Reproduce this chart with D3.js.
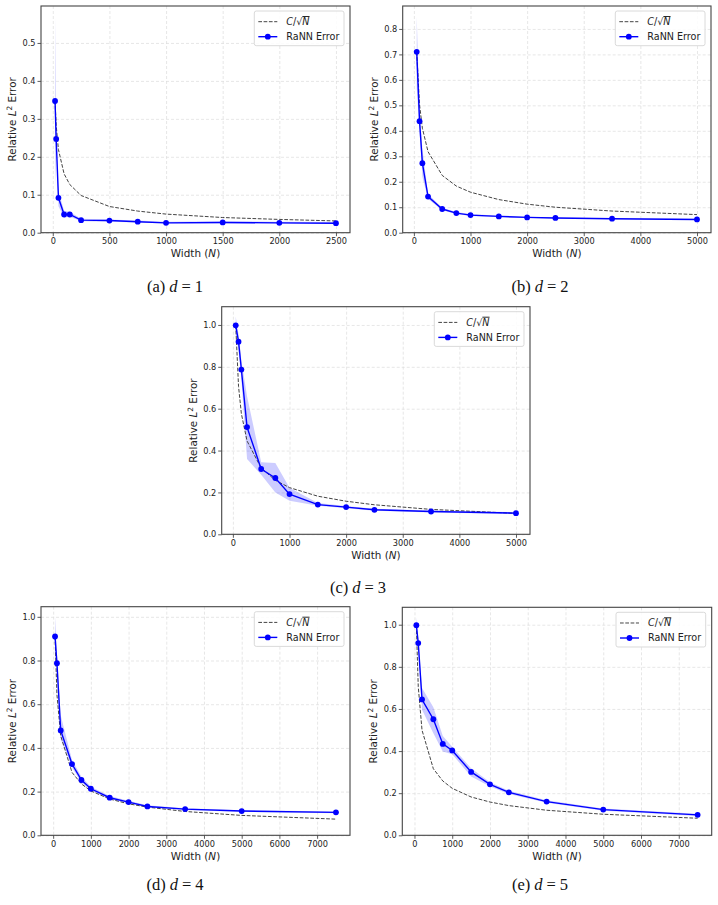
<!DOCTYPE html>
<html>
<head>
<meta charset="utf-8">
<script src="https://cdn.jsdelivr.net/npm/d3@7"></script>
<style>
  body { margin: 0; background: #fff; }
  text { font-family: "DejaVu Sans", sans-serif; }
  .caption { font-family: "Liberation Serif", serif; }
</style>
</head>
<body>
<svg width="718" height="905"></svg>
<script>
// d = 1
const nA = [20, 30, 50, 100, 150, 250, 500, 750, 1000, 1500, 2000, 2500];
const errA = [0.347, 0.247, 0.092, 0.048, 0.048, 0.033, 0.032, 0.029, 0.026, 0.027, 0.026, 0.025];
const loA = [0.120, 0.230, 0.070, 0.040, 0.042, 0.030, 0.029, 0.027, 0.024, 0.025, 0.024, 0.023];
const hiA = [0.570, 0.265, 0.110, 0.058, 0.055, 0.037, 0.035, 0.032, 0.029, 0.030, 0.029, 0.028];
const refA = [0.347, 0.283, 0.219, 0.155, 0.127, 0.098, 0.069, 0.057, 0.049, 0.040, 0.035, 0.031];

// d = 2
const nB = [50, 100, 150, 250, 500, 750, 1000, 1500, 2000, 2500, 3500, 5000];
const errB = [0.710, 0.438, 0.273, 0.142, 0.093, 0.077, 0.069, 0.064, 0.060, 0.058, 0.055, 0.052];
const loB = [0.570, 0.400, 0.220, 0.132, 0.088, 0.073, 0.066, 0.061, 0.058, 0.056, 0.053, 0.050];
const hiB = [0.850, 0.480, 0.330, 0.152, 0.098, 0.081, 0.073, 0.067, 0.063, 0.060, 0.057, 0.055];
const refB = [0.710, 0.502, 0.410, 0.318, 0.225, 0.183, 0.159, 0.130, 0.112, 0.100, 0.085, 0.071];

// d = 3
const nC = [50, 100, 150, 250, 500, 750, 1000, 1500, 2000, 2500, 3500, 5000];
const errC = [0.998, 0.920, 0.787, 0.512, 0.312, 0.269, 0.192, 0.142, 0.130, 0.117, 0.109, 0.101];
const loC = [0.955, 0.880, 0.740, 0.360, 0.285, 0.200, 0.160, 0.136, 0.125, 0.112, 0.104, 0.096];
const hiC = [1.040, 0.955, 0.830, 0.660, 0.344, 0.341, 0.222, 0.149, 0.135, 0.122, 0.114, 0.106];
const refC = [0.998, 0.706, 0.576, 0.446, 0.316, 0.258, 0.223, 0.182, 0.158, 0.141, 0.119, 0.100];

// d = 4
const nD = [50, 100, 200, 500, 750, 1000, 1500, 2000, 2500, 3500, 5000, 7500];
const errD = [0.910, 0.788, 0.480, 0.326, 0.253, 0.213, 0.172, 0.152, 0.132, 0.120, 0.111, 0.105];
const loD = [0.840, 0.750, 0.440, 0.310, 0.240, 0.205, 0.165, 0.147, 0.128, 0.116, 0.107, 0.101];
const hiD = [1.000, 0.830, 0.550, 0.345, 0.268, 0.222, 0.180, 0.158, 0.137, 0.124, 0.115, 0.109];
const refD = [0.910, 0.644, 0.455, 0.288, 0.235, 0.203, 0.166, 0.144, 0.129, 0.109, 0.091, 0.074];

// d = 5
const nE = [50, 100, 200, 500, 750, 1000, 1500, 2000, 2500, 3500, 5000, 7500];
const errE = [0.998, 0.913, 0.645, 0.551, 0.434, 0.403, 0.301, 0.242, 0.204, 0.160, 0.122, 0.097];
const loE = [0.965, 0.890, 0.596, 0.485, 0.398, 0.385, 0.279, 0.232, 0.196, 0.154, 0.117, 0.092];
const hiE = [1.035, 0.935, 0.699, 0.608, 0.472, 0.420, 0.318, 0.252, 0.212, 0.166, 0.127, 0.102];
const refE = [0.998, 0.706, 0.499, 0.316, 0.258, 0.223, 0.182, 0.158, 0.141, 0.119, 0.100, 0.081];

const xTicksA = [0, 500, 1000, 1500, 2000, 2500];
const xTicksB = [0, 1000, 2000, 3000, 4000, 5000];
const xTicksD = [0, 1000, 2000, 3000, 4000, 5000, 6000, 7000];
const yTicksA = [0, 0.1, 0.2, 0.3, 0.4, 0.5];
const yTicksB = [0, 0.1, 0.2, 0.3, 0.4, 0.5, 0.6, 0.7, 0.8];
const yTicksC = [0, 0.2, 0.4, 0.6, 0.8, 1.0];

const panels = [
  { tag: 'a', d: 1, n: nA, err: errA, lo: loA, hi: hiA, ref: refA, xt: xTicksA, yt: yTicksA,
    x0: 41, x1: 350, y0: 6, y1: 232.7, cx: 175, cy: 292 },
  { tag: 'b', d: 2, n: nB, err: errB, lo: loB, hi: hiB, ref: refB, xt: xTicksB, yt: yTicksB,
    x0: 402.7, x1: 711, y0: 6, y1: 232.7, cx: 540, cy: 292 },
  { tag: 'c', d: 3, n: nC, err: errC, lo: loC, hi: hiC, ref: refC, xt: xTicksB, yt: yTicksC,
    x0: 221.7, x1: 530, y0: 306.7, y1: 534.3, cx: 358, cy: 593 },
  { tag: 'd', d: 4, n: nD, err: errD, lo: loD, hi: hiD, ref: refD, xt: xTicksD, yt: yTicksC,
    x0: 41, x1: 350, y0: 606.7, y1: 835.3, cx: 175, cy: 890 },
  { tag: 'e', d: 5, n: nE, err: errE, lo: loE, hi: hiE, ref: refE, xt: xTicksD, yt: yTicksC,
    x0: 402.3, x1: 711.7, y0: 607.3, y1: 835.3, cx: 540, cy: 890 }
];

const svg = d3.select('svg');
svg.append('rect').attr('width', 718).attr('height', 905).attr('fill', '#fff');

const blue = '#0000ff';

const render = p => {
  const w = p.x1 - p.x0;
  const h = p.y1 - p.y0;
  const rows = p.n.map((n, i) => ({ n, e: p.err[i], lo: p.lo[i], hi: p.hi[i], r: p.ref[i] }));

  // matplotlib style 5% margins, y starts at 0
  const xmin = d3.min(p.n), xmax = d3.max(p.n);
  const xpad = (xmax - xmin) * 0.05;
  const ytop = d3.max(p.hi);
  const ybot = d3.min(p.lo.concat(p.ref));
  const xScale = d3.scaleLinear().domain([xmin - xpad, xmax + xpad]).range([0, w]);
  const yScale = d3.scaleLinear().domain([0, ytop + (ytop - ybot) * 0.05]).range([h, 0]);

  const g = svg.append('g').attr('transform', `translate(${p.x0}, ${p.y0})`);

  // grid
  g.append('g')
    .call(d3.axisBottom(xScale).tickValues(p.xt).tickSize(h).tickFormat(''))
    .call(a => a.select('.domain').remove())
    .selectAll('line').attr('stroke', '#dcdcdc').attr('stroke-width', 0.7).attr('stroke-dasharray', '3,2');
  g.append('g')
    .call(d3.axisLeft(yScale).tickValues(p.yt).tickSize(-w).tickFormat(''))
    .call(a => a.select('.domain').remove())
    .selectAll('line').attr('stroke', '#dcdcdc').attr('stroke-width', 0.7).attr('stroke-dasharray', '3,2');

  // band
  g.append('path').datum(rows)
    .attr('d', d3.area().x(d => xScale(d.n)).y0(d => yScale(d.lo)).y1(d => yScale(d.hi)))
    .attr('fill', blue).attr('fill-opacity', 0.2).attr('stroke', 'none');

  // reference C/sqrt(N)
  g.append('path').datum(rows)
    .attr('d', d3.line().x(d => xScale(d.n)).y(d => yScale(d.r)))
    .attr('fill', 'none').attr('stroke', '#444').attr('stroke-width', 1)
    .attr('stroke-dasharray', '3.7,1.6');

  // error line
  g.append('path').datum(rows)
    .attr('d', d3.line().x(d => xScale(d.n)).y(d => yScale(d.e)))
    .attr('fill', 'none').attr('stroke', blue).attr('stroke-width', 1.4);
  g.selectAll('circle.pt').data(rows).enter()
    .append('circle').classed('pt', true)
    .attr('cx', d => xScale(d.n)).attr('cy', d => yScale(d.e))
    .attr('r', 2.9).attr('fill', blue);

  // axes
  const xAxisG = g.append('g').attr('transform', `translate(0, ${h})`)
    .call(d3.axisBottom(xScale).tickValues(p.xt).tickSize(3.5).tickPadding(2).tickFormat(d3.format('d')));
  const yAxisG = g.append('g')
    .call(d3.axisLeft(yScale).tickValues(p.yt).tickSize(3.5).tickPadding(2).tickFormat(d3.format('.1f')));
  [xAxisG, yAxisG].forEach(a => {
    a.select('.domain').remove();
    a.selectAll('line').attr('stroke', '#333').attr('stroke-width', 0.8);
    a.selectAll('text').attr('font-size', 8.2).attr('fill', '#222')
      .attr('font-family', '"DejaVu Sans", sans-serif');
  });

  g.append('rect').attr('width', w).attr('height', h)
    .attr('fill', 'none').attr('stroke', '#444').attr('stroke-width', 1.1);

  // axis labels
  const xl = g.append('text').attr('x', w / 2).attr('y', h + 24.5)
    .attr('text-anchor', 'middle').attr('font-size', 10.4).attr('fill', '#222');
  xl.append('tspan').text('Width (');
  xl.append('tspan').attr('font-style', 'italic').text('N');
  xl.append('tspan').text(')');

  const yl = g.append('text')
    .attr('transform', `translate(${-25}, ${h / 2}) rotate(-90)`)
    .attr('text-anchor', 'middle').attr('font-size', 10.4).attr('fill', '#222');
  yl.append('tspan').text('Relative ');
  yl.append('tspan').attr('font-style', 'italic').text('L');
  yl.append('tspan').attr('font-size', 7.3).attr('dy', -4.2).text('2');
  yl.append('tspan').attr('dy', 4.2).text(' Error');

  // legend
  const lg = g.append('g').attr('transform', `translate(${w - 95.7}, 5)`);
  lg.append('rect').attr('width', 89.7).attr('height', 34.7).attr('rx', 2)
    .attr('fill', '#fff').attr('fill-opacity', 0.85).attr('stroke', '#d0d0d0').attr('stroke-width', 0.8);
  lg.append('line').attr('x1', 4).attr('x2', 23).attr('y1', 10.7).attr('y2', 10.7)
    .attr('stroke', '#444').attr('stroke-width', 1).attr('stroke-dasharray', '3.7,1.6');
  lg.append('line').attr('x1', 4).attr('x2', 23).attr('y1', 25.7).attr('y2', 25.7)
    .attr('stroke', blue).attr('stroke-width', 1.4);
  lg.append('circle').attr('cx', 13.5).attr('cy', 25.7).attr('r', 2.9).attr('fill', blue);
  const t1 = lg.append('text').attr('x', 32).attr('y', 14).attr('font-size', 9.6).attr('fill', '#222');
  t1.append('tspan').attr('font-style', 'italic').text('C');
  t1.append('tspan').text('/√');
  t1.append('tspan').attr('font-style', 'italic').attr('text-decoration', 'overline').text('N');
  lg.append('text').attr('x', 32).attr('y', 29).attr('font-size', 9.6).attr('fill', '#222').text('RaNN Error');

  // caption
  const cap = svg.append('text').classed('caption', true)
    .attr('x', p.cx).attr('y', p.cy).attr('text-anchor', 'middle')
    .attr('font-size', 16.5).attr('fill', '#111');
  cap.append('tspan').text(`(${p.tag})`);
  cap.append('tspan').attr('dx', 4).attr('font-style', 'italic').text('d');
  cap.append('tspan').attr('dx', 4).text('=');
  cap.append('tspan').attr('dx', 4).text(p.d);
};

panels.forEach(render);
</script>
</body>
</html>
